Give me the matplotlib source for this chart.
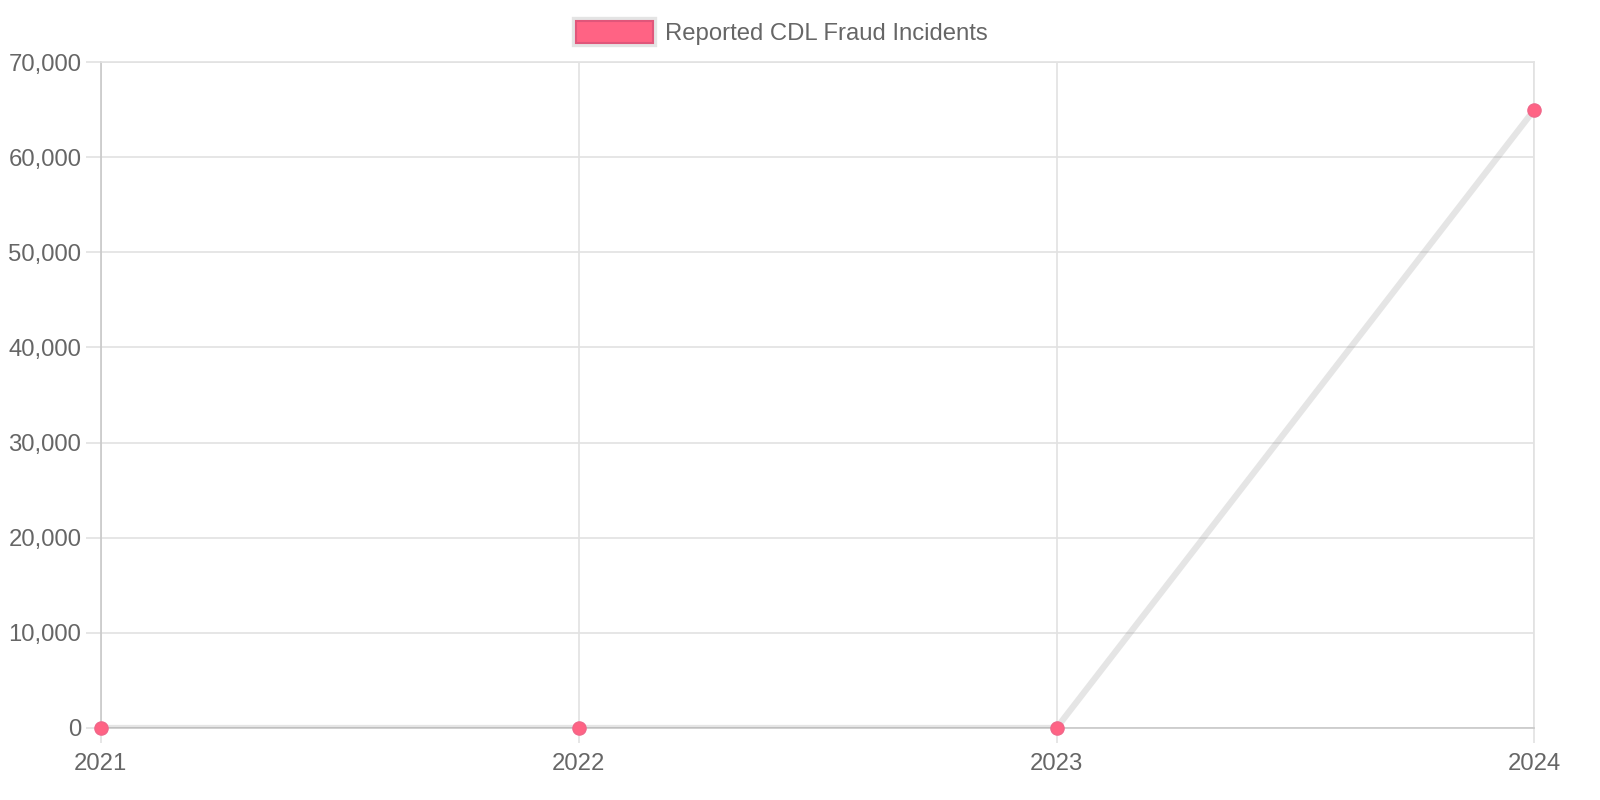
import matplotlib.pyplot as plt
import matplotlib.patheffects as pe
from matplotlib.patches import Patch
from matplotlib.ticker import FuncFormatter, MultipleLocator

plt.rcParams['font.family'] = ['Liberation Sans', 'DejaVu Sans']

years = ['2021', '2022', '2023', '2024']
incidents = [0, 0, 0, 65000]
series_name = 'Reported CDL Fraud Incidents'

text_color = '#666666'
grid_color = '#e2e2e2'
point_color = '#ff6384'

fig = plt.figure(figsize=(16, 8), dpi=100)
ax = fig.add_axes([0.063, 0.09, 0.896, 0.8325])

x = list(range(len(years)))
ax.plot(x, incidents, color=(0.6, 0.6, 0.6, 0.25), linewidth=4.5,
        solid_capstyle='round', zorder=3)
ax.scatter(x, incidents, s=90, color=point_color, edgecolors='#f0678a',
           linewidths=1, zorder=4, clip_on=False)

ax.set_xlim(0, len(years) - 1)
ax.set_ylim(0, 70000)
ax.set_xticks(x)
ax.set_xticklabels(years)
ax.yaxis.set_major_locator(MultipleLocator(10000))
ax.yaxis.set_major_formatter(FuncFormatter(lambda v, p: f'{int(v):,}'))

ax.grid(True, color=grid_color, linewidth=1.2, zorder=0)
ax.tick_params(axis='both', colors=grid_color, labelcolor=text_color,
               labelsize=17.2, length=11, width=1.2)
ax.tick_params(axis='y', pad=3)
ax.tick_params(axis='x', pad=7)
for side in ['top', 'right']:
    ax.spines[side].set_color(grid_color)
    ax.spines[side].set_linewidth(1.2)
for side in ['left', 'bottom']:
    ax.spines[side].set_color('#c8c8c8')
    ax.spines[side].set_linewidth(1.2)

# pink box with a light grey outline, like the reference legend
handle = Patch(facecolor=point_color, edgecolor='#e0567a', linewidth=1.5,
               path_effects=[pe.Stroke(linewidth=6, foreground='#e4e4e4'),
                             pe.Normal()])
leg = ax.legend([handle], [series_name], loc='lower center',
                bbox_to_anchor=(0.475, 1.0), frameon=False,
                fontsize=17.2, labelcolor=text_color,
                handlelength=3.2, handleheight=1.0, handletextpad=0.5,
                borderaxespad=0.3)

fig.savefig('out.png', dpi=100, facecolor='white')
